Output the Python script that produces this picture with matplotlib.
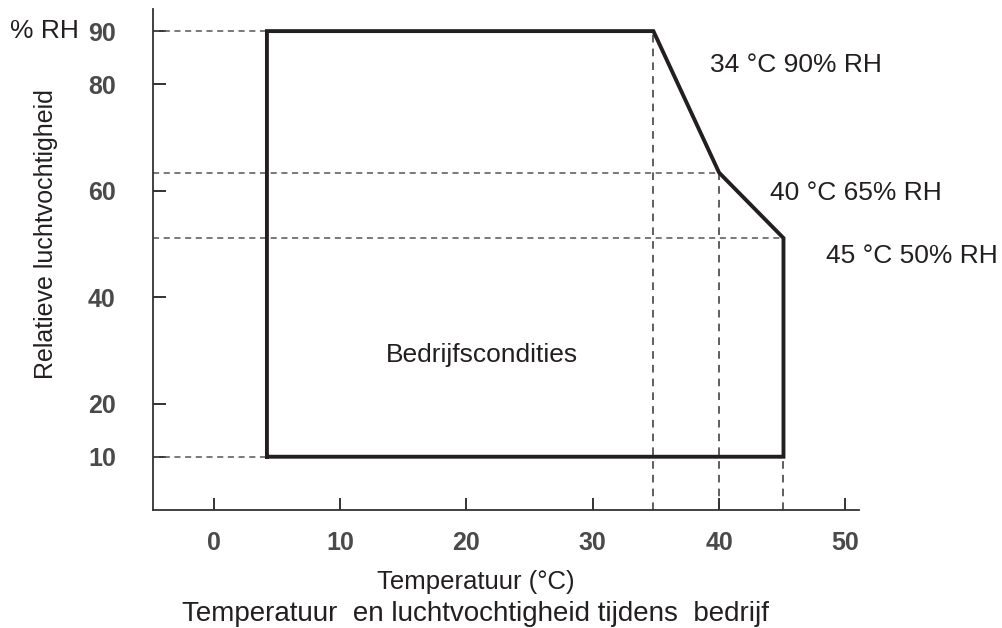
import numpy as np
import matplotlib
matplotlib.use('Agg')
import matplotlib.pyplot as plt

plt.rcParams['font.family'] = ['Liberation Sans', 'DejaVu Sans']

# grens van het bedrijfsgebied (temperatuur, RV)
temp = [4.2, 4.2, 34.8, 40.0, 45.1, 45.1, 4.2]
rh = [10, 90, 90, 63.4, 51.1, 10, 10]

xticks = [0, 10, 20, 30, 40, 50]
yticks = [10, 20, 40, 60, 80, 90]

labels = ['34 °C 90% RH', '40 °C 65% RH', '45 °C 50% RH']
label_x = [39.3, 44.0, 48.5]
label_y = [83.6, 59.6, 47.8]

donker = '#231f20'
grijs = '#4a4a4a'

fig = plt.figure(figsize=(10.03, 6.28), dpi=100)
ax = fig.add_axes([0.1528, 0.188, 0.7039, 0.7972])

ax.set_xlim(-4.8, 51.1)
ax.set_ylim(0, 94.1)

# hulplijnen
ax.plot([-4.8, temp[0]], [90, 90], ls=(0, (4, 3)), color='#555555', lw=1.1)
ax.plot([-4.8, temp[0]], [10, 10], ls=(0, (4, 3)), color='#555555', lw=1.1)
ax.plot([-4.8, temp[3]], [rh[3], rh[3]], ls=(0, (4, 3)), color='#555555', lw=1.1)
ax.plot([-4.8, temp[4]], [rh[4], rh[4]], ls=(0, (4, 3)), color='#555555', lw=1.1)
ax.plot([temp[2], temp[2]], [0, 90], ls=(0, (5, 4)), color='#333333', lw=1.1)
ax.plot([temp[3], temp[3]], [0, rh[3]], ls=(0, (5, 4)), color='#333333', lw=1.1)
ax.plot([temp[4], temp[4]], [0, 10], ls=(0, (5, 4)), color='#333333', lw=1.1)

ax.plot(temp, rh, color=donker, lw=2.8, solid_joinstyle='miter')

for s in ['top', 'right']:
    ax.spines[s].set_visible(False)
for s in ['left', 'bottom']:
    ax.spines[s].set_color('#333333')
    ax.spines[s].set_linewidth(1.3)

ax.set_xticks(xticks)
ax.set_yticks(yticks)
ax.tick_params(direction='in', length=9, width=1.4, color='#333333',
               labelsize=18, labelcolor=grijs)
ax.tick_params(axis='x', pad=15)
ax.tick_params(axis='y', pad=27)
for t in ax.get_xticklabels() + ax.get_yticklabels():
    t.set_fontweight('bold')

for s, x, y in zip(labels, label_x, label_y):
    ax.text(x, y, s, fontsize=19, color=donker, ha='left', va='center',
            clip_on=False)

ax.text(21.2, 29.2, 'Bedrijfscondities', fontsize=19, color=donker,
        ha='center', va='center')

fig.text(10 / 1003, 1 - 31 / 628, '% RH', fontsize=19, color=donker,
         ha='left', va='center')
fig.text(46 / 1003, 1 - 234 / 628, 'Relatieve luchtvochtigheid', fontsize=18,
         color=donker, rotation=90, ha='center', va='center')
fig.text(476 / 1003, 1 - 582 / 628, 'Temperatuur (°C)', fontsize=18.5,
         color=donker, ha='center', va='center')
fig.text(476 / 1003, 1 - 614 / 628,
         'Temperatuur  en luchtvochtigheid tijdens  bedrijf', fontsize=20,
         color=donker, ha='center', va='center')

fig.savefig('out.png', dpi=100)
